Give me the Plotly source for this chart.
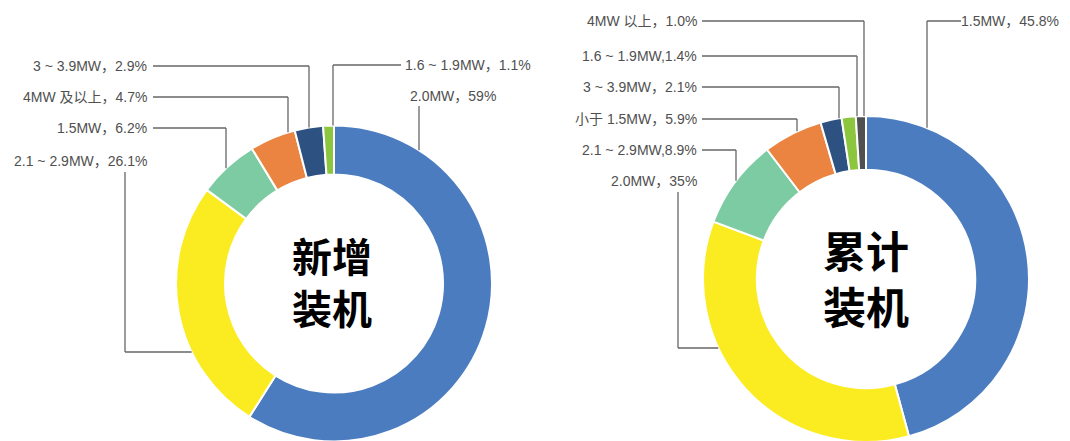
import plotly.graph_objects as go

W, H = 1070, 441
OFF = 8  # page body margin in the viewer

# ---- data ----
new_cats = ["2.0MW", "2.1 ~ 2.9MW", "1.5MW", "4MW 及以上", "3 ~ 3.9MW", "1.6 ~ 1.9MW"]
new_vals = [59, 26.1, 6.2, 4.7, 2.9, 1.1]
new_pct = ["59", "26.1", "6.2", "4.7", "2.9", "1.1"]
new_sep = ["，", "，", "，", "，", "，", "，"]

cum_cats = ["1.5MW", "2.0MW", "2.1 ~ 2.9MW", "小于 1.5MW", "3 ~ 3.9MW", "1.6 ~ 1.9MW", "4MW 以上"]
cum_vals = [45.8, 35, 8.9, 5.9, 2.1, 1.4, 1.0]
cum_pct = ["45.8", "35", "8.9", "5.9", "2.1", "1.4", "1.0"]
cum_sep = ["，", "，", ",", "，", "，", ",", "，"]

new_colors = ["#4B7CC0", "#FBEC22", "#7DCBA3", "#EA8440", "#2D5282", "#8CC63E"]
cum_colors = ["#4B7CC0", "#FBEC22", "#7DCBA3", "#EA8440", "#2D5282", "#8CC63E", "#505050"]

# ---- geometry (reference pixels) ----
L = dict(cx=334, cy=283.5, R=158, hole=0.69, tx=331.5, ty=283.5, ts=40)
Rr = dict(cx=866, cy=279, R=163, hole=0.67, tx=866, ty=281, ts=43)


def px(x):
    return (x - OFF) / W


def py(y):
    return 1 - (y - OFF) / H


fig = go.Figure()
for g, cats, vals, cols in ((L, new_cats, new_vals, new_colors), (Rr, cum_cats, cum_vals, cum_colors)):
    fig.add_trace(go.Pie(
        labels=cats, values=vals, sort=False, direction="clockwise", rotation=0,
        hole=g["hole"], textinfo="none", hoverinfo="label+percent",
        marker=dict(colors=cols, line=dict(color="white", width=2)),
        domain=dict(x=[px(g["cx"] - g["R"]), px(g["cx"] + g["R"])],
                    y=[max(0, py(g["cy"] + g["R"])), py(g["cy"] - g["R"])]),
        showlegend=False,
    ))

LINE = dict(color="#666666", width=1.3)
FONT = dict(family="Liberation Sans, Noto Sans CJK SC, sans-serif", size=14, color="#505050")


def ring_y(g, x):
    dx = x - g["cx"]
    return g["cy"] - (g["R"] ** 2 - dx ** 2) ** 0.5


def ring_x_left(g, y):
    dy = y - g["cy"]
    return g["cx"] - (g["R"] ** 2 - dy ** 2) ** 0.5


def seg(x0, y0, x1, y1):
    fig.add_shape(type="line", xref="paper", yref="paper", x0=px(x0), y0=py(y0),
                  x1=px(x1), y1=py(y1), line=LINE)


def label(text, x, y, anchor):
    fig.add_annotation(text=text, x=px(x), y=py(y), xref="paper", yref="paper", xanchor=anchor,
                       yanchor="middle", showarrow=False, font=FONT)


def lab(cats, sep, pct, i):
    return f"{cats[i]}{sep[i]}{pct[i]}%"


# ---- left chart ----
for i, y, vx in [(4, 66, 309), (3, 97, 288), (2, 128, 226)]:
    label(lab(new_cats, new_sep, new_pct, i), 149, y, "right")
    seg(153, y, vx, y)
    seg(vx, y, vx, ring_y(L, vx))
label(lab(new_cats, new_sep, new_pct, 1), 149, 161, "right")
seg(125, 172, 125, 352)
seg(125, 352, ring_x_left(L, 352), 352)
label(lab(new_cats, new_sep, new_pct, 5), 403, 65, "left")
seg(401, 65, 333, 65)
seg(333, 65, 333, ring_y(L, 333))
label(lab(new_cats, new_sep, new_pct, 0), 408, 96, "left")
seg(419, 106, 419, ring_y(L, 419))

# ---- right chart ----
for i, y, vx in [(6, 21, 864), (5, 56, 857), (4, 87, 839), (3, 119, 797), (2, 150, 736)]:
    label(lab(cum_cats, cum_sep, cum_pct, i), 699, y, "right")
    seg(702, y, vx, y)
    seg(vx, y, vx, ring_y(Rr, vx))
label(lab(cum_cats, cum_sep, cum_pct, 1), 699, 181, "right")
seg(678, 192, 678, 348)
seg(678, 348, ring_x_left(Rr, 348), 348)
label(lab(cum_cats, cum_sep, cum_pct, 0), 1061, 21, "right")
seg(961, 21, 927, 21)
seg(927, 21, 927, ring_y(Rr, 927))

# ---- centre titles ----
for g, t in ((L, "<b>新增<br>装机</b>"), (Rr, "<b>累计<br>装机</b>")):
    fig.add_annotation(text=t, x=px(g["tx"]), y=py(g["ty"]), xref="paper", yref="paper",
                       xanchor="center", yanchor="middle", showarrow=False,
                       font=dict(family="DejaVu Sans, Noto Sans CJK SC, sans-serif",
                                 size=g["ts"], color="#000000"))

fig.update_layout(width=W, height=H, margin=dict(l=0, r=0, t=0, b=0),
                  paper_bgcolor="white", plot_bgcolor="white")
fig.write_html("out.html")
